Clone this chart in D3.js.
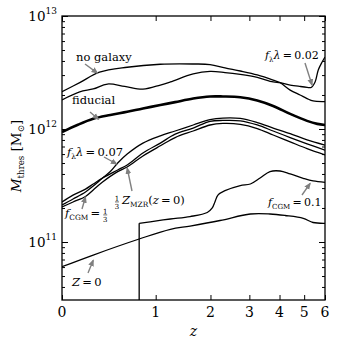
<!DOCTYPE html>
<html>
<head>
<meta charset="utf-8">
<script src="https://cdn.jsdelivr.net/npm/d3@7"></script>
<style>
  body { margin: 0; background: #fff; }
  svg text { font-family: "DejaVu Serif", serif; }
</style>
</head>
<body>
<div id="chart"></div>
<script>
'use strict';

// redshift grid and threshold masses (in units of 1e12 Msun)
const zNoGal = [0, 0.14, 0.32, 0.62, 1.07, 1.64, 1.99, 2.34, 2.74, 3.24, 3.77, 4.02, 4.41, 4.82, 5.13, 5.41, 6.0];
const mNoGal = [2.14, 2.57, 3.18, 3.52, 3.74, 3.76, 3.72, 3.47, 3.26, 3.01, 2.71, 2.57, 2.21, 2.00, 1.86, 1.77, 1.75];

const zLam002 = [0, 0.14, 0.26, 0.40, 0.59, 0.82, 1.07, 1.23, 1.64, 1.99, 2.34, 2.74, 3.24, 3.77, 4.02, 4.41, 4.82, 5.13, 5.32, 5.51, 5.66, 5.86, 6.0];
const mLam002 = [1.81, 2.13, 2.26, 2.50, 2.38, 2.25, 2.45, 2.61, 3.07, 3.23, 3.16, 3.04, 2.86, 2.61, 2.57, 2.45, 2.38, 2.34, 2.33, 2.62, 3.33, 3.94, 4.34];

const zFid = [0, 0.12, 0.26, 0.43, 0.62, 0.82, 1.07, 1.31, 1.64, 1.99, 2.29, 2.74, 3.24, 3.77, 4.41, 5.13, 5.61, 6.0];
const mFid = [0.94, 1.085, 1.23, 1.33, 1.42, 1.52, 1.63, 1.73, 1.86, 1.94, 1.94, 1.91, 1.79, 1.60, 1.36, 1.18, 1.11, 1.085];

const zLam007 = [0, 0.085, 0.19, 0.26, 0.35, 0.43, 0.51, 0.62, 0.82, 1.07, 1.31, 1.64, 1.99, 2.29, 2.74, 3.24, 3.77, 4.41, 5.13, 6.0];
const mLam007 = [0.2125, 0.24, 0.277, 0.313, 0.368, 0.42, 0.50, 0.60, 0.75, 0.87, 0.96, 1.085, 1.21, 1.25, 1.24, 1.14, 1.02, 0.91, 0.80, 0.72];

const zMzr = [0, 0.085, 0.19, 0.26, 0.35, 0.51, 0.62, 0.82, 1.07, 1.31, 1.64, 1.99, 2.29, 2.74, 3.24, 3.77, 4.41, 5.13, 6.0];
const mMzr = [0.226, 0.26, 0.294, 0.326, 0.368, 0.434, 0.48, 0.613, 0.75, 0.90, 1.02, 1.17, 1.19, 1.18, 1.085, 0.96, 0.84, 0.74, 0.65];

const zCgm13 = [0, 0.085, 0.19, 0.26, 0.35, 0.51, 0.62, 0.82, 1.07, 1.31, 1.64, 1.99, 2.29, 2.74, 3.24, 3.77, 4.41, 5.13, 6.0];
const mCgm13 = [0.204, 0.226, 0.253, 0.289, 0.34, 0.42, 0.461, 0.577, 0.71, 0.84, 0.96, 1.085, 1.12, 1.10, 1.01, 0.885, 0.77, 0.67, 0.59];

// no solution below z~0.77, hence the vertical jump up from the bottom
const zCgm01 = [0.77, 0.77, 0.92, 1.23, 1.58, 1.93, 2.04, 2.10, 2.17, 2.34, 2.74, 3.03, 3.33, 3.66, 4.02, 4.41, 4.96, 5.41, 6.0];
const mCgm01 = [0.01, 0.1464, 0.151, 0.1598, 0.168, 0.1825, 0.20, 0.226, 0.26, 0.2845, 0.316, 0.326, 0.368, 0.42, 0.425, 0.40, 0.366, 0.347, 0.3375];

const zZ0 = [0, 0.26, 0.77, 1.23, 1.58, 2.22, 3.03, 3.66, 4.21, 4.96, 5.41, 6.0];
const mZ0 = [0.0604, 0.0767, 0.1063, 0.1296, 0.1385, 0.155, 0.177, 0.177, 0.1716, 0.162, 0.1488, 0.1464];

const zTicks = [0, 1, 2, 3, 4, 5, 6];
const mMajor = [0.1, 1, 10];
const mMajorExp = ["11", "12", "13"];

const series = [
    {z: zNoGal, m: mNoGal, w: 1.3},
    {z: zLam002, m: mLam002, w: 1.3},
    {z: zFid, m: mFid, w: 2.6},
    {z: zLam007, m: mLam007, w: 1.3},
    {z: zMzr, m: mMzr, w: 1.3},
    {z: zCgm13, m: mCgm13, w: 1.3},
    {z: zCgm01, m: mCgm01, w: 1.3, jump: true},
    {z: zZ0, m: mZ0, w: 1.3}
];

const width = 339, height = 348;
const margin = {top: 16, right: 14, bottom: 48, left: 62};
const x0 = margin.left, x1 = width - margin.right;
const y0 = margin.top, y1 = height - margin.bottom;

const svg = d3.select("#chart").append("svg")
    .attr("width", width)
    .attr("height", height);

// x axis is linear in log(1+z)
const xs = d3.scaleLog().domain([1, 7]).range([x0, x1]);
const x = z => xs(1 + z);
const y = d3.scaleLog()
    .domain([Math.pow(10, 1 - (y1 - y0) / 113), 10])
    .range([y1, y0])
    .clamp(true);

let mMinor = [];
for (let e = -2; e <= 0; e++) {
    for (let k = 2; k <= 9; k++) {
        let v = k * Math.pow(10, e);
        if (v >= y.domain()[0] && v <= 10) mMinor.push(v);
    }
}

const defs = svg.append("defs");
defs.append("clipPath").attr("id", "plot-clip")
    .append("rect").attr("x", x0).attr("y", y0).attr("width", x1 - x0).attr("height", y1 - y0);

// curves
let line = d3.line()
    .x(d => x(d[0]))
    .y(d => y(d[1]))
    .curve(d3.curveCatmullRom.alpha(0.5));
let straight = d3.line()
    .x(d => x(d[0]))
    .y(d => y(d[1]));

let curves = svg.append("g").attr("clip-path", "url(#plot-clip)");
series.forEach(s => {
    let pts = s.z.map((z, i) => [z, s.m[i]]);
    let d = s.jump ? straight(pts.slice(0, 2)) + line(pts.slice(1)) : line(pts);
    curves.append("path")
        .attr("d", d)
        .attr("fill", "none")
        .attr("stroke", "#000")
        .attr("stroke-width", s.w)
        .attr("stroke-linejoin", "round");
});

// ticks, pointing inward on all four sides
function ticks(axis, tx, ty) {
    svg.append("g")
        .attr("transform", `translate(${tx},${ty})`)
        .call(axis)
        .call(g => g.select(".domain").remove())
        .call(g => g.selectAll("line").attr("stroke", "#000").attr("stroke-width", 1));
}
ticks(d3.axisLeft(y).tickValues(mMajor).tickSize(-6).tickFormat(""), x0, 0);
ticks(d3.axisLeft(y).tickValues(mMinor).tickSize(-3).tickFormat(""), x0, 0);
ticks(d3.axisRight(y).tickValues(mMajor).tickSize(-6).tickFormat(""), x1, 0);
ticks(d3.axisRight(y).tickValues(mMinor).tickSize(-3).tickFormat(""), x1, 0);
ticks(d3.axisBottom(xs).tickValues(zTicks.map(z => 1 + z)).tickSize(-5).tickFormat(""), 0, y1);
ticks(d3.axisTop(xs).tickValues(zTicks.map(z => 1 + z)).tickSize(-5).tickFormat(""), 0, y0);

// tick labels
svg.append("g").selectAll("text")
    .data(zTicks)
    .join("text")
    .attr("x", d => x(d))
    .attr("y", y1 + 17)
    .attr("text-anchor", "middle")
    .style("font-size", "14px")
    .text(d => d);

mMajor.forEach((m, i) => {
    let t = svg.append("text")
        .attr("x", x0 - 5)
        .attr("y", y(m) + 5)
        .attr("text-anchor", "end")
        .style("font-size", "13.5px");
    t.append("tspan").text("10");
    t.append("tspan").attr("dy", -7).style("font-size", "9px").text(mMajorExp[i]);
});

// frame
svg.append("rect")
    .attr("x", x0).attr("y", y0)
    .attr("width", x1 - x0).attr("height", y1 - y0)
    .attr("fill", "none")
    .attr("stroke", "#000")
    .attr("stroke-width", 1.3);

// rich text: parts = [text, style] with style in {i: italic, sub, sup}
function mathText(g, px, py, parts, size, attrs) {
    let t = g.append("text").attr("x", px).attr("y", py).style("font-size", size + "px");
    if (attrs) Object.keys(attrs).forEach(k => t.attr(k, attrs[k]));
    let shift = 0;
    parts.forEach(p => {
        let o = p[1] || {};
        let target = o.sub ? size * 0.25 : o.sup ? -size * 0.45 : 0;
        let ts = t.append("tspan").text(p[0]);
        if (target !== shift) { ts.attr("dy", target - shift); shift = target; }
        if (o.i) ts.style("font-style", "italic");
        if (o.sub || o.sup) ts.style("font-size", (size * 0.64) + "px");
    });
    return t;
}
// stacked 1/3
function fraction(g, px, py, size) {
    g.append("text").attr("x", px).attr("y", py - size * 0.45).attr("text-anchor", "middle")
        .style("font-size", size + "px").text("1");
    g.append("line").attr("x1", px - size * 0.28).attr("x2", px + size * 0.28)
        .attr("y1", py - size * 0.3).attr("y2", py - size * 0.3)
        .attr("stroke", "#000").attr("stroke-width", 0.6);
    g.append("text").attr("x", px).attr("y", py + size * 0.75).attr("text-anchor", "middle")
        .style("font-size", size + "px").text("3");
}

// axis titles
mathText(svg, 0, 0, [["M", {i: 1}], ["thres", {sub: 1}], [" [M"], ["\u2299", {sub: 1}], ["]"]], 13.5,
    {"text-anchor": "middle", "transform": "translate(21,156) rotate(-90)"});
mathText(svg, (x0 + x1) / 2, 336, [["z", {i: 1}]], 14, {"text-anchor": "middle"});

// annotations with grey arrows
defs.append("marker")
    .attr("id", "head")
    .attr("viewBox", "0 0 6 6")
    .attr("refX", 5).attr("refY", 3)
    .attr("markerWidth", 5).attr("markerHeight", 5)
    .attr("orient", "auto")
    .append("path").attr("d", "M0,0.5 L6,3 L0,5.5 z").attr("fill", "#808080");

const ann = svg.append("g");
function arrow(tx, ty, z, m) {
    ann.append("line")
        .attr("x1", tx).attr("y1", ty)
        .attr("x2", x(z)).attr("y2", y(m))
        .attr("stroke", "#808080").attr("stroke-width", 1.4)
        .attr("marker-end", "url(#head)");
}

const fs = 11.5;
const EQ = "\u2009=\u2009";
mathText(ann, 76, 61, [["no galaxy"]], fs);
arrow(85, 64, 0.3, 3.12);

mathText(ann, 72, 104, [["fiducial"]], fs);
arrow(90, 112, 0.31, 1.22);

mathText(ann, 67, 156, [["f", {i: 1}], ["\u03bb", {sub: 1}], ["\u03bb", {i: 1}], [EQ + "0.07"]], fs);
arrow(104, 157, 0.5, 0.49);

fraction(ann, 117, 204, 7);
mathText(ann, 122, 204, [["Z", {i: 1}], ["MZR", {sub: 1}], ["("], ["z", {i: 1}], [EQ + "0)"]], fs);
arrow(132, 191, 0.62, 0.45);

let cg = mathText(ann, 65, 217, [["f", {i: 1}], ["CGM", {sub: 1}], ["\u2009="]], fs);
fraction(ann, 65 + cg.node().getComputedTextLength() + 5, 217, 7);
arrow(82, 209, 0.19, 0.25);

mathText(ann, 268, 206, [["f", {i: 1}], ["CGM", {sub: 1}], [EQ + "0.1"]], 11);
arrow(302, 195, 5.27, 0.33);

mathText(ann, 72, 286, [["Z", {i: 1}], [EQ + "0"]], fs);
arrow(88, 273, 0.26, 0.069);

mathText(ann, 265, 59, [["f", {i: 1}], ["\u03bb", {sub: 1}], ["\u03bb", {i: 1}], [EQ + "0.02"]], 11);
arrow(305, 63, 5.36, 2.45);
</script>
</body>
</html>
